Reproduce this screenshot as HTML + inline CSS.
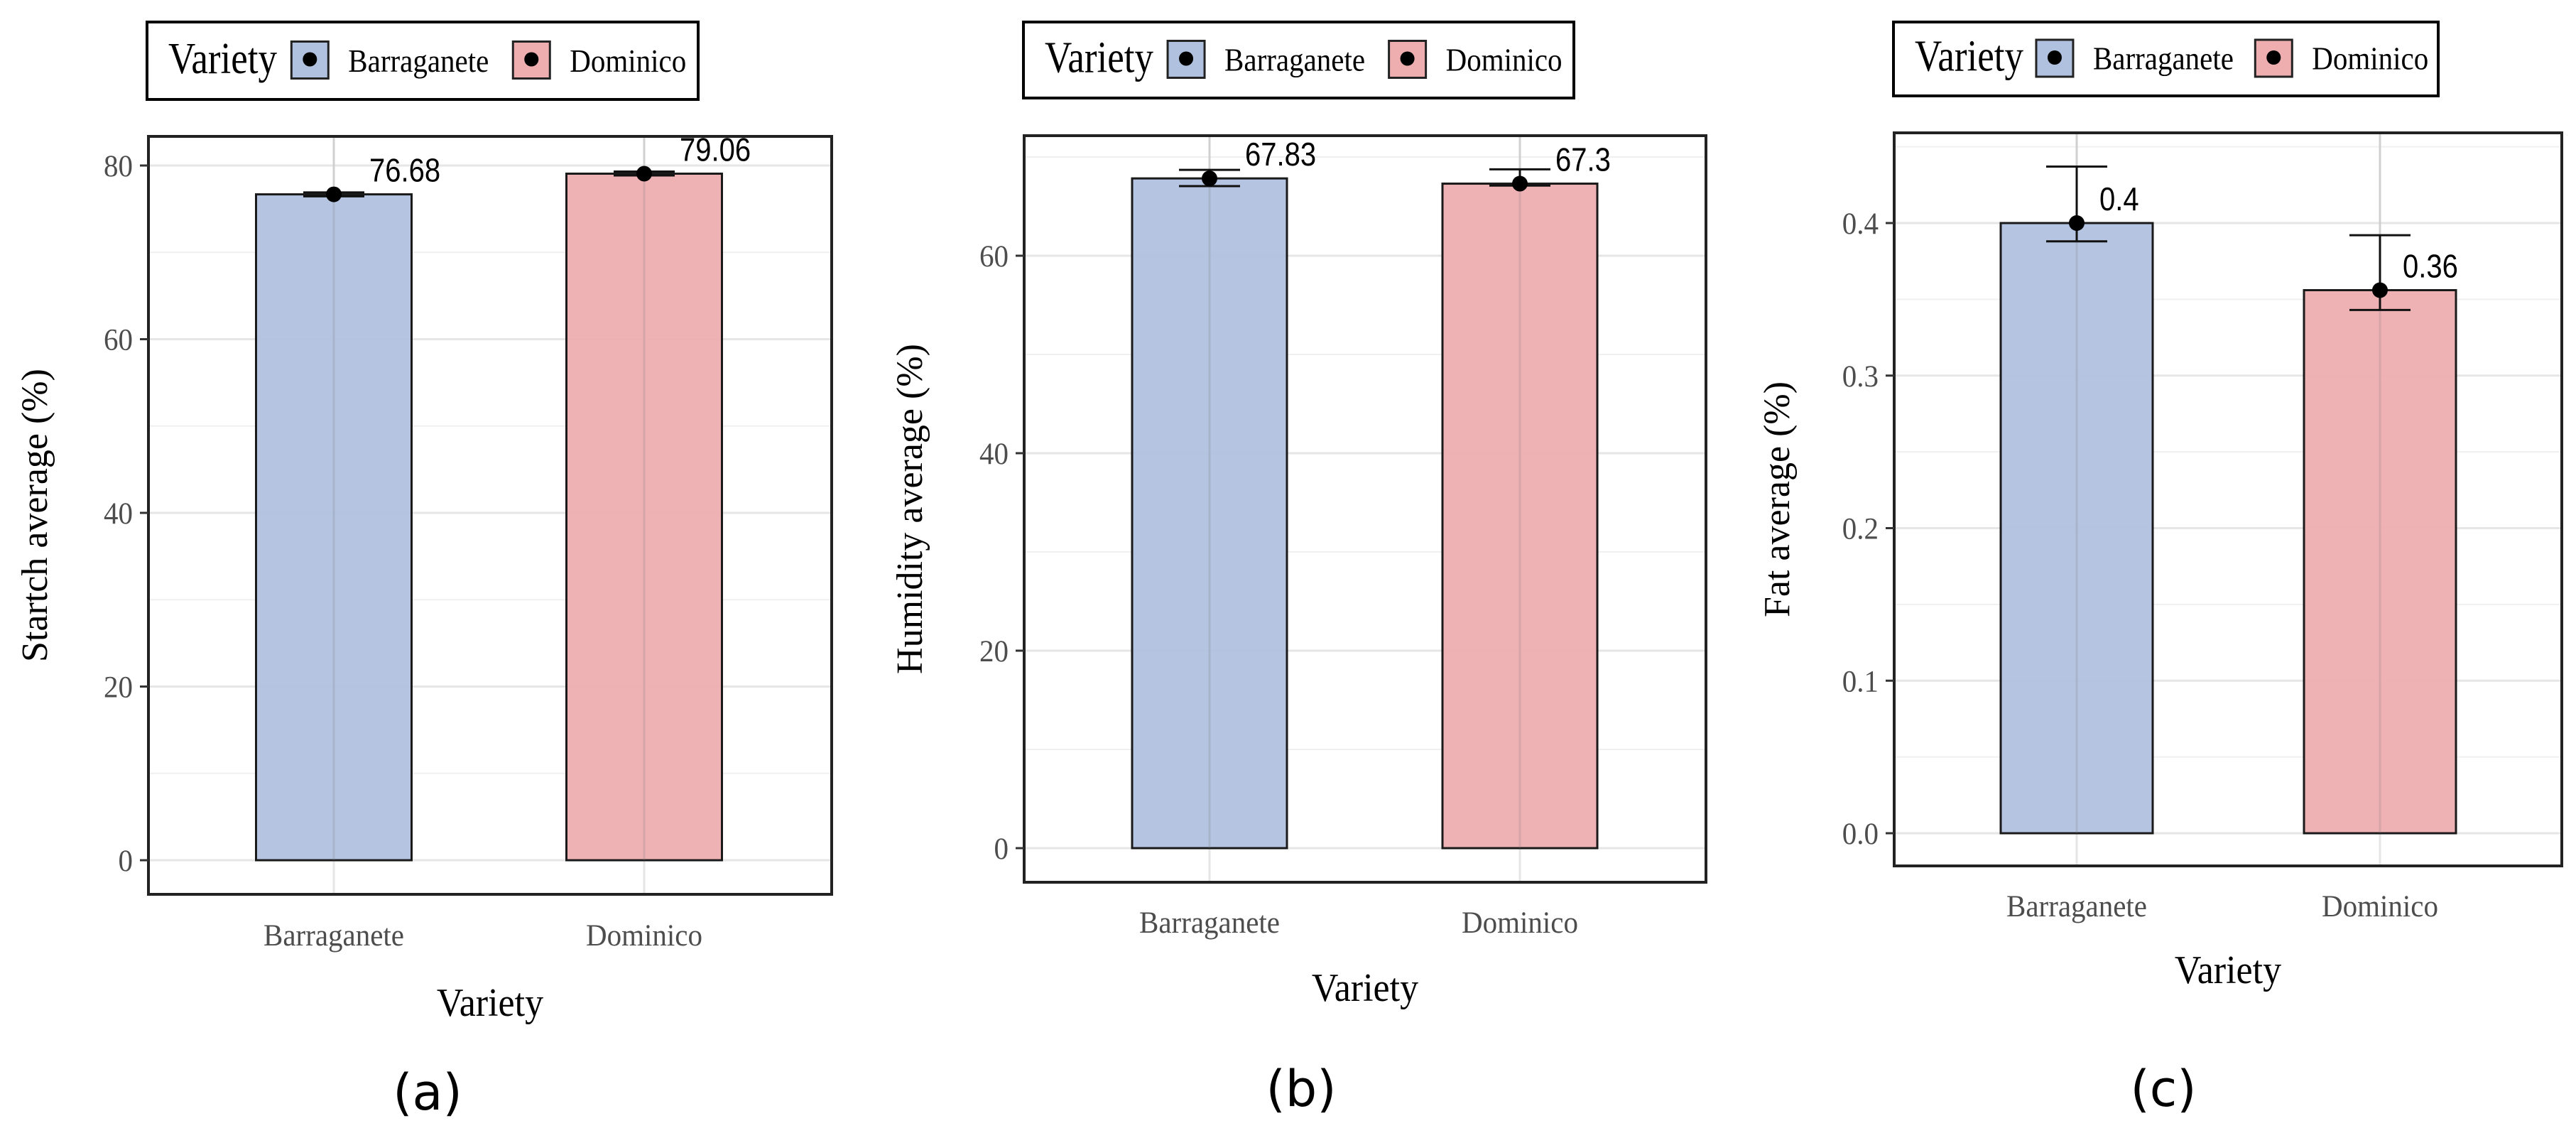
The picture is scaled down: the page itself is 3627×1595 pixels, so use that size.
<!DOCTYPE html>
<html><head><meta charset="utf-8"><style>
html,body{margin:0;padding:0;background:#fff;}
svg{display:block;}
text{font-family:"Liberation Serif",serif;}
</style></head><body>
<svg id="fig" width="3627" height="1595" viewBox="0 0 3627 1595" xmlns="http://www.w3.org/2000/svg"></svg>
<script>
const categories = ["Barraganete", "Dominico"];
const starchValues = [76.68, 79.06];
const starchLow = [76.45, 78.85];
const starchHigh = [76.9, 79.3];
const starchTicks = [0, 20, 40, 60, 80];
const starchTickLabels = ["0", "20", "40", "60", "80"];
const starchLabels = ["76.68", "79.06"];
const humidityValues = [67.83, 67.3];
const humidityLow = [67.05, 67.1];
const humidityHigh = [68.7, 68.75];
const humidityTicks = [0, 20, 40, 60];
const humidityTickLabels = ["0", "20", "40", "60"];
const humidityLabels = ["67.83", "67.3"];
const fatValues = [0.4, 0.356];
const fatLow = [0.388, 0.343];
const fatHigh = [0.437, 0.392];
const fatTicks = [0, 0.1, 0.2, 0.3, 0.4];
const fatTickLabels = ["0.0", "0.1", "0.2", "0.3", "0.4"];
const fatLabels = ["0.4", "0.36"];

const NS = "http://www.w3.org/2000/svg";
const svg = document.getElementById("fig");
const fills = ["#b0c1df", "#eeaeb0"];
function mk(tag, attrs, parent, txt) {
  const e = document.createElementNS(NS, tag);
  for (const k in attrs) e.setAttribute(k, attrs[k]);
  if (txt !== undefined) e.textContent = txt;
  (parent || svg).appendChild(e);
  return e;
}
function stext(px, py, size, sy, attrs, parent, txt) {
  const a = Object.assign({x: 0, y: 0, "font-size": size, transform: `translate(${px},${py}) scale(1,${sy})`}, attrs);
  return mk("text", a, parent, txt);
}
function panel(cfg, vals, lo, hi, ticks, tickLabels, labels) {
  const g = mk("g", {});
  
  
  const L = cfg.box[0], T = cfg.box[1], R = cfg.box[2], B = cfg.box[3];
  const y = v => cfg.y0 + (cfg.y1 - cfg.y0) * (v - cfg.v0) / (cfg.v1 - cfg.v0);
  const x = i => cfg.cx0 + (cfg.cx1 - cfg.cx0) * i;
  const lg = mk("g", {}, g);
  
  
  const lb = cfg.leg;
  const lh = lb[3] - lb[1];
  mk("rect", {x: lb[0], y: lb[1], width: lb[2] - lb[0], height: lh, fill: "#fff", stroke: "#000", "stroke-width": 4}, lg);
  const lt = stext(lb[0] + 30, lb[1] + lh * 0.66, 53, 1.17, {}, lg, "Variety");
  
  
  const w = lb[2] - lb[0];
  const kx = [lb[0] + w * 0.262, lb[0] + w * 0.664];
  categories.forEach((c, i) => {
    const kg = mk("g", {}, lg);
    
    
    mk("rect", {x: kx[i], y: lb[1] + lh / 2 - 27, width: 52, height: 52, fill: fills[i], stroke: "#222", "stroke-width": 3}, kg);
    mk("circle", {cx: kx[i] + 26, cy: lb[1] + lh / 2 - 2, r: 10, fill: "#000"}, kg);
    stext(kx[i] + 80, lb[1] + lh * 0.64, 41, 1.12, {}, kg, c);
  });
  const step = ticks[1] - ticks[0];
  ticks.forEach(t => { const yy = y(t + step / 2); if (yy > T && yy < B) mk("line", {x1: L, x2: R, y1: yy, y2: yy, stroke: "#f0f0f0", "stroke-width": 2}, g); });
  ticks.forEach(v => mk("line", {x1: L, x2: R, y1: y(v), y2: y(v), stroke: "#e6e6e6", "stroke-width": 3}, g));
  categories.forEach((c, i) => mk("line", {x1: x(i), x2: x(i), y1: T, y2: B, stroke: "#e6e6e6", "stroke-width": 3}, g));
  const bw = cfg.bw;
  vals.forEach((v, i) => {
    const r = mk("rect", {x: x(i) - bw / 2, y: y(v), width: bw, height: y(0) - y(v), fill: fills[i], "fill-opacity": 0.95, stroke: "#1a1a1a", "stroke-width": 3}, g);
    
    
  });
  vals.forEach((v, i) => { mk("line", {x1: x(i), x2: x(i), y1: T, y2: y(0), stroke: "rgba(120,120,120,0.2)", "stroke-width": 3}, g); });
  vals.forEach((v, i) => {
    const eg = mk("g", {stroke: "#111", "stroke-width": 3}, g);
    
    
    mk("line", {x1: x(i), x2: x(i), y1: y(hi[i]), y2: y(lo[i])}, eg);
    mk("line", {x1: x(i) - 43, x2: x(i) + 43, y1: y(hi[i]), y2: y(hi[i])}, eg);
    mk("line", {x1: x(i) - 43, x2: x(i) + 43, y1: y(lo[i]), y2: y(lo[i])}, eg);
    const p = mk("circle", {cx: x(i), cy: y(v), r: 11, fill: "#000"}, g);
    
    
    const t = stext(x(i) + cfg.ldx, y(v) - 18, 40, 1.15, {style: "font-family:'Liberation Sans',sans-serif"}, g, labels[i]);
    
    
  });
  mk("rect", {x: L, y: T, width: R - L, height: B - T, fill: "none", stroke: "#222", "stroke-width": 4}, g);
  ticks.forEach((v, k) => {
    mk("line", {x1: L - 12, x2: L, y1: y(v), y2: y(v), stroke: "#333", "stroke-width": 3}, g);
    const t = stext(L - 22, y(v) + 15, 41, 1.07, {fill: "#4d4d4d", "text-anchor": "end"}, g, tickLabels[k]);
    
    
  });
  categories.forEach((c, i) => {
    const t = stext(x(i), cfg.xtickY, 41, 1.07, {fill: "#4d4d4d", "text-anchor": "middle"}, g, c);
    
    
  });
  const xt = stext((L + R) / 2, cfg.xtitleY, 52, 1.08, {"text-anchor": "middle"}, g, "Variety");
  
  
  const yt = mk("text", {x: 0, y: 0, "font-size": 52, "text-anchor": "middle", transform: `translate(${cfg.ytitleX},${(T + B) / 2}) rotate(-90)`}, g, cfg.ytitle);
  
  
  const cap = mk("text", {x: cfg.capX, y: cfg.capY, "font-size": 70, "text-anchor": "middle", style: "font-family:'DejaVu Sans','Liberation Sans',sans-serif"}, g, cfg.cap);
  
  
}
panel({name: "starch-panel", box: [209, 192, 1171, 1259], leg: [207, 31, 983, 140], y0: 1211, y1: 233, v0: 0, v1: 80,
  cx0: 470, cx1: 907, bw: 219, ldx: 50, xtickY: 1331, xtitleY: 1430, ytitle: "Startch average (%)", ytitleX: 66, cap: "(a)", capX: 602, capY: 1562},
  starchValues, starchLow, starchHigh, starchTicks, starchTickLabels, starchLabels);
panel({name: "humidity-panel", box: [1442, 191, 2402, 1242], leg: [1441, 31, 2216, 138], y0: 1194, y1: 360, v0: 0, v1: 60,
  cx0: 1703, cx1: 2140, bw: 218, ldx: 50, xtickY: 1313, xtitleY: 1409, ytitle: "Humidity average (%)", ytitleX: 1298, cap: "(b)", capX: 1832, capY: 1557},
  humidityValues, humidityLow, humidityHigh, humidityTicks, humidityTickLabels, humidityLabels);
panel({name: "fat-panel", box: [2667, 187, 3607, 1219], leg: [2666, 31, 3433, 135], y0: 1173, y1: 314, v0: 0, v1: 0.4,
  cx0: 2924, cx1: 3351, bw: 214, ldx: 32, xtickY: 1290, xtitleY: 1384, ytitle: "Fat average (%)", ytitleX: 2519, cap: "(c)", capX: 3046, capY: 1557},
  fatValues, fatLow, fatHigh, fatTicks, fatTickLabels, fatLabels);
</script>
</body></html>
